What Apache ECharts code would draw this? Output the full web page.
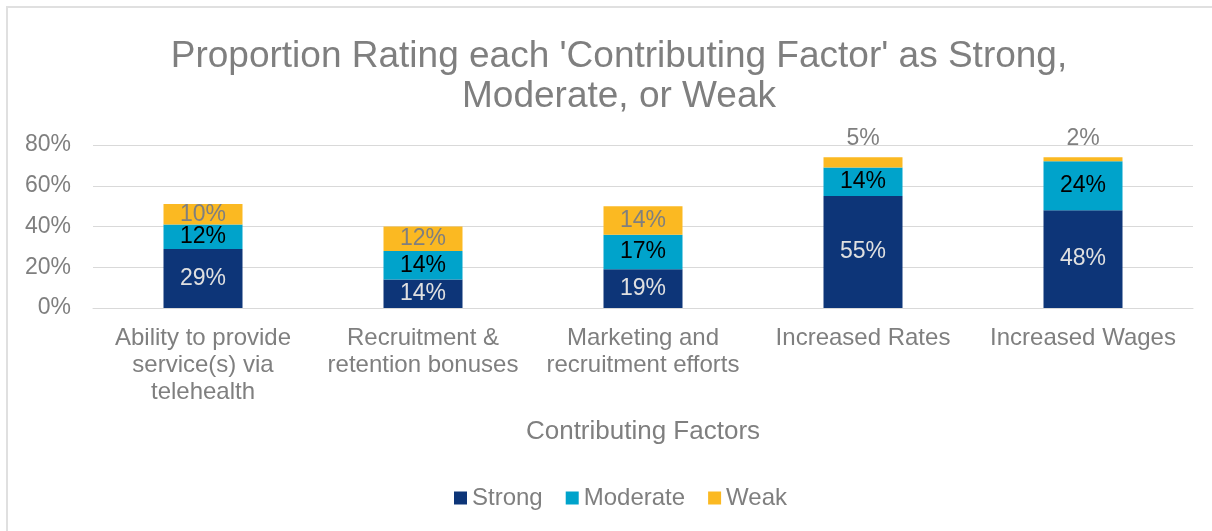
<!DOCTYPE html>
<html>
<head>
<meta charset="utf-8">
<script src="https://cdn.jsdelivr.net/npm/echarts@6/dist/echarts.min.js"></script>
<style>
    html, body { margin: 0; padding: 0; background: #fff; overflow: hidden; }
    #frame {
        position: absolute; left: 6px; top: 6px; width: 1300px; height: 600px;
        border-left: 2px solid #e0e0e0; border-top: 2px solid #e0e0e0;
    }
    #chart { position: absolute; left: 0; top: 0; width: 1212px; height: 531px; }
</style>
</head>
<body>
<div id="frame"></div>
<div id="chart"></div>
<script>
    const categories = [
        'Ability to provide\nservice(s) via\ntelehealth',
        'Recruitment &\nretention bonuses',
        'Marketing and\nrecruitment efforts',
        'Increased Rates',
        'Increased Wages'
    ]
    const strong = [29, 14, 19, 55, 48]
    const moderate = [12, 14, 17, 14, 24]
    const weak = [10, 12, 14, 5, 2]
    const yTicks = [0, 20, 40, 60, 80]

    let font = 'Liberation Sans, Arial, sans-serif'
    let chart = echarts.init(document.getElementById('chart'))

    // small weak values sit above the bar, the rest inside
    let weakData = weak.map(v => {
        if (v < 8) {
            return {value: v, label: {position: 'top', distance: 7}}
        }
        return v
    })

    let labelStyle = (color) => ({
        show: true,
        position: 'inside',
        color: color,
        fontSize: 23,
        fontFamily: font,
        formatter: (p) => p.value + '%'
    })

    let options = {
        backgroundColor: 'transparent',
        textStyle: {fontFamily: font},
        title: {
            text: "Proportion Rating each 'Contributing Factor' as Strong,\nModerate, or Weak",
            left: 614,
            top: 32,
            textAlign: 'center',
            textStyle: {
                color: '#7f7f7f',
                fontSize: 37,
                fontWeight: 'normal',
                lineHeight: 40,
                fontFamily: font
            }
        },
        legend: {
            bottom: 16,
            left: 449,
            itemWidth: 13,
            itemHeight: 13,
            itemGap: 23,
            icon: 'rect',
            textStyle: {color: '#7f7f7f', fontSize: 24, fontFamily: font}
        },
        grid: {
            left: 93,
            right: 19,
            top: 145,
            bottom: 223,
            containLabel: false
        },
        xAxis: {
            type: 'category',
            data: categories,
            name: 'Contributing Factors',
            nameLocation: 'middle',
            nameGap: 111,
            nameTextStyle: {color: '#7f7f7f', fontSize: 26, fontFamily: font},
            axisLine: {lineStyle: {color: '#d9d9d9', width: 1}},
            axisTick: {show: false},
            axisLabel: {
                color: '#7f7f7f',
                fontSize: 24,
                lineHeight: 27,
                margin: 17,
                interval: 0,
                fontFamily: font
            }
        },
        yAxis: {
            type: 'value',
            min: yTicks[0],
            max: yTicks[yTicks.length - 1],
            interval: 20,
            axisLine: {show: false},
            axisTick: {show: false},
            splitLine: {lineStyle: {color: '#d9d9d9', width: 1}},
            axisLabel: {
                color: '#7f7f7f',
                fontSize: 23,
                margin: 22,
                fontFamily: font,
                formatter: (v) => v + '%'
            }
        },
        series: [
            {
                name: 'Strong',
                type: 'bar',
                stack: 'total',
                barWidth: 79,
                data: strong,
                itemStyle: {color: '#0d3578'},
                label: labelStyle('#e0e0e0')
            },
            {
                name: 'Moderate',
                type: 'bar',
                stack: 'total',
                data: moderate,
                itemStyle: {color: '#00a3cb'},
                label: labelStyle('#000000')
            },
            {
                name: 'Weak',
                type: 'bar',
                stack: 'total',
                data: weakData,
                itemStyle: {color: '#fbb922'},
                label: labelStyle('#7f7f7f')
            }
        ]
    }
    chart.setOption(options)
</script>
</body>
</html>
